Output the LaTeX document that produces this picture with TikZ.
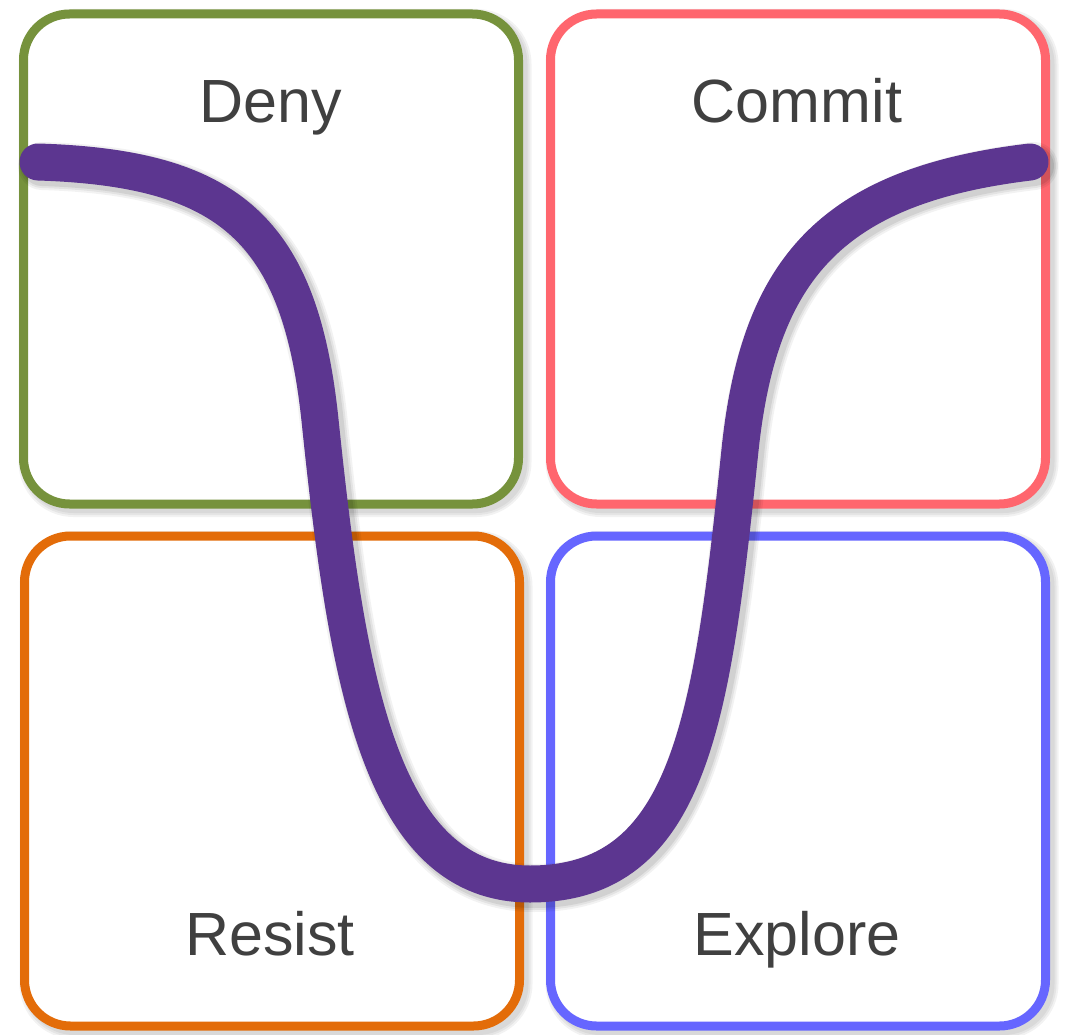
\documentclass[tikz,border=0pt]{standalone}
\usepackage{fontspec}
\setmainfont{Liberation Sans}
\definecolor{denygreen}{RGB}{118,146,60}
\definecolor{commitred}{RGB}{255,102,110}
\definecolor{resistorange}{RGB}{227,108,9}
\definecolor{exploreblue}{RGB}{102,102,255}
\definecolor{curvepurple}{RGB}{92,54,144}
\definecolor{labelgray}{RGB}{64,64,64}
\begin{document}
\begin{tikzpicture}[x=1pt,y=-1pt,
  quad/.style={draw=#1, fill=white, line width=9pt, rounded corners=46pt,
    minimum width=495pt, minimum height=490pt, inner sep=0pt},
  quadshade/.style={draw=black, line width=#1, rounded corners=46pt,
    minimum width=495pt, minimum height=490pt, inner sep=0pt, opacity=0.05},
  phase/.style={text=labelgray, anchor=base, inner sep=0pt,
    font=\fontsize{61}{64}\selectfont},
  vcurve/.pic={
    \draw[pic actions, line cap=round, line join=round]
      (38,162) .. controls (230,168) and (300,230) .. (320,420)
               .. controls (347,680) and (380,884) .. (530,884)
               .. controls (690,884) and (712,720) .. (740,450)
               .. controls (759,270) and (830,186) .. (1030,162);
  }]
  % canvas
  \path[fill=white] (0,0) rectangle (1066,1035);
  \useasboundingbox (0,0) rectangle (1066,1035);

  % soft shadows behind the four quadrants
  \foreach \cx/\cy in {271/259, 798/259, 272/781, 798/781}
    \foreach \w in {18pt,14pt,10pt}
      \node[quadshade=\w] at (\cx+4,\cy+4) {};

  % the four quadrants
  \node[quad=denygreen]    (deny)    at (271,259) {};
  \node[quad=commitred]    (commit)  at (798,259) {};
  \node[quad=resistorange] (resist)  at (272,781) {};
  \node[quad=exploreblue]  (explore) at (798,781) {};

  % quadrant labels
  \node[phase] (denylabel)    at (271,123) {Deny};
  \node[phase] (commitlabel)  at (797,123) {Commit};
  \node[phase] (resistlabel)  at (270,955) {Resist};
  \node[phase] (explorelabel) at (797,955) {Explore};

  % shadow of the change curve
  \foreach \w/\o in {48pt/0.05, 44pt/0.06, 40pt/0.08}
    \pic[draw=black, line width=\w, opacity=\o] at (4,4) {vcurve};

  % the change curve
  \pic[draw=curvepurple, line width=37pt] at (0,0) {vcurve};
\end{tikzpicture}
\end{document}
